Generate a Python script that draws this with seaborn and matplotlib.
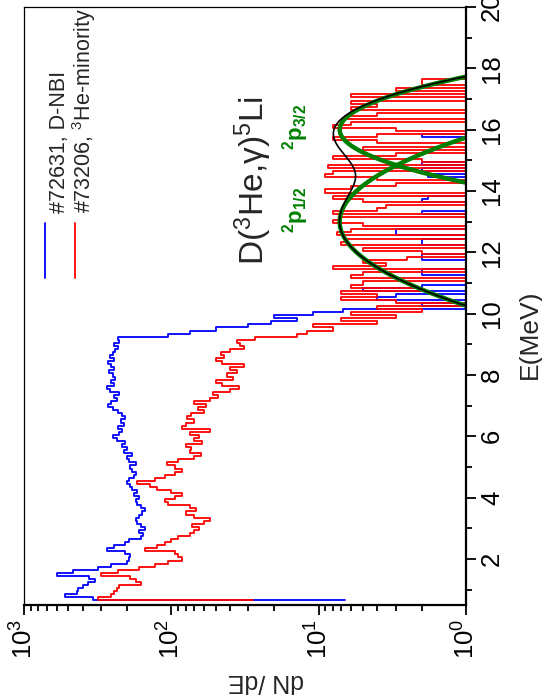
import numpy as np
import pandas as pd
import matplotlib
matplotlib.use("Agg")
import matplotlib.pyplot as plt
import seaborn as sns
from matplotlib.lines import Line2D
from matplotlib.ticker import FixedLocator, LogLocator, NullFormatter

sns.set_theme(style="ticks")
plt.rcParams["font.family"] = ["Liberation Sans", "DejaVu Sans"]
plt.rcParams["mathtext.fontset"] = "custom"
plt.rcParams["mathtext.rm"] = "Liberation Sans"
plt.rcParams["mathtext.it"] = "Liberation Sans:italic"
plt.rcParams["mathtext.bf"] = "Liberation Sans:bold"
plt.rcParams["mathtext.default"] = "regular"

# ---------------------------------------------------------------- data
E_START = 0.65      # lower edge of the first energy bin (MeV)
BIN_WIDTH = 0.1     # MeV

# #72631, D-NBI
blue_first = 6.6
blue_counts = [
    340, 525, 440, 430, 400, 370, 330, 360, 600, 465,
    315, 255, 200, 195, 190, 205, 275, 245, 205, 195,
    160, 155, 165, 150, 160, 170, 175, 165, 158, 150,
    160, 170, 175, 165, 180, 170, 185, 192, 200, 195,
    180, 175, 185, 190, 175, 195, 200, 185, 210, 200,
    215, 205, 235, 250, 225, 215, 230, 210, 220, 205,
    215, 230, 250, 270, 255, 235, 245, 225, 260, 275,
    245, 255, 240, 250, 265, 245, 255, 270, 245, 260,
    250, 240, 230, 245, 225, 230, 105, 75, 50, 30,
    21, 14, 20, 11, 6.8, 0, 2, 0, 4, 3,
    0, 5, 2, 0, 0, 0, 2, 2, 0, 0,
    0, 2, 2, 0, 0, 0, 2, 2, 0, 3,
    3, 0, 0, 0, 0, 0, 2, 0, 0, 0,
    2, 1.8, 0, 0, 0, 0, 0, 0, 1.8, 0,
    2, 0, 2, 0, 0, 0, 0, 0, 0, 0,
    0, 2, 0, 0, 0, 0, 0, 0, 0, 0,
    0, 0, 0, 0, 0, 0, 0, 0, 0, 0,
    0, 0, 0, 0,
]

# #73206, 3He-minority
red_first = 28
red_counts = [
    316, 255, 245, 235, 225, 160, 175, 190, 300, 230,
    165, 130, 105, 85, 90, 95, 150, 125, 110, 100,
    90, 75, 70, 65, 72, 60, 55, 70, 80, 68,
    75, 105, 110, 95, 85, 100, 125, 140, 170, 130,
    110, 95, 85, 95, 107, 90, 70, 63, 75, 73,
    80, 62, 70, 65, 75, 55, 85, 80, 70, 78,
    74, 60, 66, 58, 70, 55, 48, 52, 40, 35,
    45, 50, 38, 42, 36, 40, 32, 45, 50, 44,
    46, 40, 32, 34, 36, 27, 14, 12, 8, 11,
    4, 7, 3, 6, 2, 4, 0, 3, 7, 4,
    7, 2, 6, 5, 0, 6, 5, 0, 8, 3.5,
    5, 2.5, 0, 2, 5, 0, 7, 6.5, 0, 7.5,
    6, 0, 5, 8, 7, 0, 8, 4, 3.5, 0,
    5, 8, 0, 9, 6, 3, 0, 4, 9, 8,
    0, 8.7, 0, 2, 8, 3, 0, 5, 0, 4,
    8, 4, 0, 3, 8, 6, 0, 6.6, 4, 0,
    6, 4, 6, 0, 6, 0, 3, 0, 2, 2,
    0, 0, 0, 0,
]

# fitted D(3He,gamma)5Li components: 2p1/2 and 2p3/2
peak_names = ["2p1/2", "2p3/2"]
peak_energy = [13.0, 16.0]   # MeV
peak_height = [7.2, 7.2]
peak_sigma = [1.38, 0.87]    # MeV

energy_ticks = [2, 4, 6, 8, 10, 12, 14, 16, 18, 20]
energy_minor = [1, 3, 5, 7, 9, 11, 13, 15, 17, 19]
count_ticks = [1000, 100, 10, 1]
count_labels = ["$10^{3}$", "$10^{2}$", "$10^{1}$", "$10^{0}$"]

FLOOR = 0.5   # empty bins run to the edge of the log axis


def step_frame(first, counts):
    counts = np.asarray(counts, dtype=float)
    edges = E_START + BIN_WIDTH * np.arange(len(counts) + 1)
    shown = np.where(counts > 0, counts, FLOOR)
    x = np.concatenate([[first], np.repeat(shown, 2)])
    y = np.concatenate([[edges[0]], np.column_stack([edges[:-1], edges[1:]]).ravel()])
    return pd.DataFrame({"dNdE": x, "E": y})


blue_df = step_frame(blue_first, blue_counts)
red_df = step_frame(red_first, red_counts)

e_fit = np.linspace(8.5, 19.5, 600)
components = [h * np.exp(-(e_fit - c) ** 2 / (2 * s ** 2))
              for c, h, s in zip(peak_energy, peak_height, peak_sigma)]
total = components[0] + components[1]

# ---------------------------------------------------------------- figure
W, H = 542, 700
fig = plt.figure(figsize=(W / 100, H / 100), dpi=100)
ax = fig.add_axes([24 / W, 95 / H, 442 / W, 598 / H])
ax.set_xscale("log")

sns.lineplot(data=blue_df, x="dNdE", y="E", sort=False, estimator=None,
             color="#0000ff", lw=1.3, ax=ax)
sns.lineplot(data=red_df, x="dNdE", y="E", sort=False, estimator=None,
             color="#ff0000", lw=1.3, ax=ax)
for comp in components:
    sns.lineplot(x=comp, y=e_fit, sort=False, estimator=None,
                 color="#008000", lw=3.2, ax=ax)
sns.lineplot(x=total, y=e_fit, sort=False, estimator=None,
             color="black", lw=1.2, ax=ax)

ax.set_xlim(1000, 1)
ax.set_ylim(0.5, 20)
ax.set_xlabel("")
ax.set_ylabel("")

ax.xaxis.set_major_locator(FixedLocator(count_ticks))
ax.set_xticklabels(count_labels)
ax.xaxis.set_minor_locator(LogLocator(base=10, subs=np.arange(2, 10)))
ax.xaxis.set_minor_formatter(NullFormatter())

ax.yaxis.tick_right()
ax.yaxis.set_major_locator(FixedLocator(energy_ticks))
ax.set_yticklabels([str(t) for t in energy_ticks])
ax.yaxis.set_minor_locator(FixedLocator(energy_minor))

ax.tick_params(axis="both", which="both", direction="out", colors="black",
               width=1.3, labelsize=18.5)
ax.tick_params(axis="both", which="major", length=7)
ax.tick_params(axis="both", which="minor", length=4.5)
ax.tick_params(axis="x", which="both", bottom=True, top=False, pad=3)
ax.tick_params(axis="y", which="both", right=True, left=False, pad=3)
for lab in ax.get_xticklabels():
    lab.set_rotation(90)
    lab.set_ha("center")
    lab.set_va("top")
for lab in ax.get_yticklabels():
    lab.set_rotation(90)
    lab.set_ha("left")
    lab.set_va("center")

for side in ["left", "top"]:
    ax.spines[side].set_linewidth(0.9)
    ax.spines[side].set_color("black")
for side in ["right", "bottom"]:
    ax.spines[side].set_linewidth(1.6)
    ax.spines[side].set_color("black")

# axis titles
fig.text(530 / W, 1 - 334 / H, "E(MeV)", rotation=90, ha="center", va="center",
         fontsize=19)
fig.text(266 / W, 1 - 681 / H, "dN /dE", rotation=180, ha="center", va="center",
         fontsize=18)

# reaction label and component names
fig.text(253 / W, 1 - 180 / H, "D($^{3}$He,γ)$^{5}$Li", rotation=90,
         ha="center", va="center", fontsize=24)
fig.text(296 / W, 1 - 210 / H, r"$\mathbf{^{2}p_{1/2}}$", rotation=90,
         ha="center", va="center", fontsize=16, color="#008000")
fig.text(296 / W, 1 - 127 / H, r"$\mathbf{^{2}p_{3/2}}$", rotation=90,
         ha="center", va="center", fontsize=16, color="#008000")

# legend
legend_items = [("#0000ff", "#72631, D-NBI", 45, 60),
                ("#ff0000", "#73206, $^{3}$He-minority", 75, 84)]
for color, text, lx, tx in legend_items:
    fig.add_artist(Line2D([lx / W, lx / W], [1 - 278 / H, 1 - 223 / H],
                          color=color, lw=1.3, transform=fig.transFigure))
    fig.text(tx / W, 1 - 213 / H, text, rotation=90, ha="center", va="bottom",
             fontsize=15.5)

fig.savefig("out.png", dpi=100)
